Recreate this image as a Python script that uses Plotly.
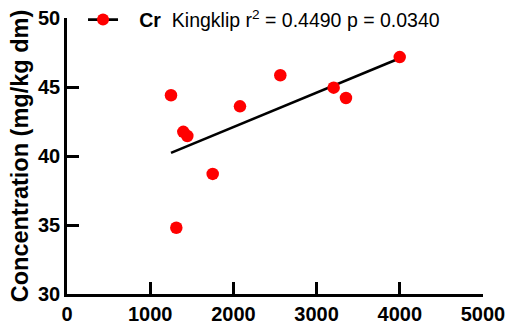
import numpy as np
import plotly.graph_objects as go

# Data
distance = [1250, 1398, 1446, 1751, 1314, 2079, 2564, 3205, 3353, 3999]
cr_conc = [44.4, 41.75, 41.45, 38.7, 34.8, 43.6, 45.85, 44.95, 44.2, 47.17]
x_ticks = [0, 1000, 2000, 3000, 4000, 5000]
y_ticks = [30, 35, 40, 45, 50]
legend_label = ("\u00a0\u00a0\u00a0<b>Cr</b>\u00a0 Kingklip r<sup>2</sup>"
                " = 0.4490 p = 0.0340")

slope, intercept = np.polyfit(distance, cr_conc, 1)
fit_x = [min(distance), max(distance)]
fit_y = [slope * v + intercept for v in fit_x]

FONT = "Liberation Sans"

fig = go.Figure(layout=dict(template="none"))
fig.add_trace(go.Scatter(
    x=fit_x, y=fit_y, mode="lines",
    line=dict(color="black", width=2.6),
    showlegend=False, hoverinfo="skip"))
fig.add_trace(go.Scatter(
    x=distance, y=cr_conc, mode="markers",
    marker=dict(color="#ff0000", size=12.5),
    showlegend=False))
fig.add_trace(go.Scatter(
    x=[None], y=[None], mode="lines+markers", name=legend_label,
    line=dict(color="black", width=2.6),
    marker=dict(color="#ff0000", size=12)))

fig.update_layout(
    width=510, height=327,
    margin=dict(l=67, r=27, t=18, b=33, autoexpand=False),
    plot_bgcolor="white", paper_bgcolor="white",
    font=dict(family=FONT, color="black", size=20),
    showlegend=True,
    legend=dict(x=0.0385, y=0.993, xanchor="left", yanchor="middle",
                bgcolor="rgba(0,0,0,0)", font=dict(size=19.5, family=FONT),
                itemwidth=30),
)
fig.update_xaxes(
    range=[0, 5000], tickmode="array", tickvals=x_ticks,
    ticktext=["<b>%d</b>" % v for v in x_ticks],
    showline=True, linecolor="#000000", linewidth=2.6,
    ticks="inside", ticklen=12, tickwidth=2.6, tickcolor="#000000",
    showgrid=False, zeroline=False, layer="above traces",
    tickfont=dict(size=20, family=FONT, color="black"),
)
fig.update_yaxes(
    range=[30, 50], tickmode="array", tickvals=y_ticks,
    ticktext=["<b>%d</b>" % v for v in y_ticks],
    showline=True, linecolor="#000000", linewidth=2.6,
    ticks="inside", ticklen=12, tickwidth=2.6, tickcolor="#000000",
    showgrid=False, zeroline=False, layer="above traces",
    tickfont=dict(size=20, family=FONT, color="black"),
    title=dict(text="<b>Concentration (mg/kg dm)</b>", standoff=3,
               font=dict(size=23.5, family=FONT)),
)

fig.write_html("out.html")
